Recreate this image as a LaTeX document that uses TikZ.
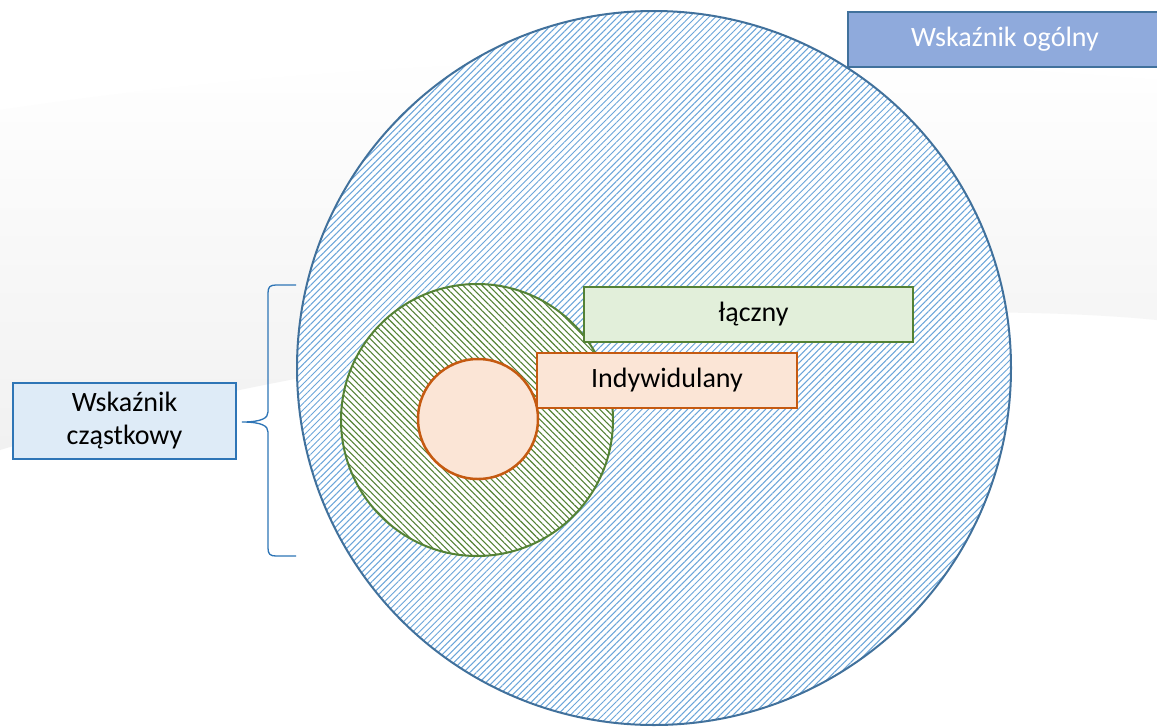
\documentclass[tikz,border=0pt]{standalone}
\usepackage{fontspec}
\setmainfont{Carlito}
\usetikzlibrary{patterns.meta}
\definecolor{bigline}{HTML}{41719C}
\definecolor{bighatch}{HTML}{5B9BD5}
\definecolor{grnline}{HTML}{548235}
\definecolor{grnhatch}{HTML}{548235}
\definecolor{grnfill}{HTML}{E2EFDA}
\definecolor{orgline}{HTML}{C55A11}
\definecolor{orgfill}{HTML}{FBE5D6}
\definecolor{topfill}{HTML}{8FAADC}
\definecolor{topline}{HTML}{41719C}
\definecolor{leftfill}{HTML}{DEEBF7}
\definecolor{leftline}{HTML}{2E75B6}
\definecolor{swoosh}{HTML}{F1F1F1}
\tikzset{
  labelbox/.style={draw, line width=2pt, inner sep=0pt, font=\fontsize{28}{33}\selectfont, align=center, text=black},
  ringshape/.style={circle, inner sep=0pt, preaction={fill=white}},
}
\begin{document}
\begin{tikzpicture}[x=1pt,y=-1pt]
\useasboundingbox (0,0) rectangle (1157,726);
\clip (0,0) rectangle (1157,726);
% background swoosh
\fill[white] (0,0) rectangle (1157,726);
\shade[top color=white, bottom color=swoosh, shading angle=0]
  (0,110) .. controls (400,50) and (800,50) .. (1157,80)
  -- (1157,320) .. controls (900,295) and (400,330) .. (0,450) -- cycle;
% circles
\node[ringshape, draw=bigline, line width=2pt, minimum size=714pt,
  pattern={Lines[angle=45,distance=4.6pt,line width=1pt]}, pattern color=bighatch!90!white] (big) at (654,368) {};
\node[ringshape, draw=grnline, line width=2pt, minimum size=272pt,
  pattern={Lines[angle=-45,distance=4.5pt,line width=1.1pt]}, pattern color=grnhatch] (part) at (477,420) {};
\node[circle, inner sep=0pt, draw=orgline, fill=orgfill, line width=2.5pt, minimum size=120pt] (ind) at (478,419) {};
% boxes
\node[labelbox, draw=grnline, fill=grnfill, minimum width=329pt, minimum height=55pt] (laczny) at (748.5,314.5) {\hspace*{10pt}łączny};
\node[labelbox, draw=orgline, fill=orgfill, minimum width=260pt, minimum height=55pt] (indyw) at (667,380.5) {Indywidulany};
\node[labelbox, draw=topline, fill=topfill, text=white, minimum width=320pt, minimum height=55pt, anchor=west] (ogolny) at (847,39.5) {\hspace*{-6pt}Wskaźnik ogólny};
\node[labelbox, draw=leftline, fill=leftfill, minimum width=223pt, minimum height=76pt] (czastk) at (124.5,421) {Wskaźnik\\cząstkowy};
% brace
\coordinate (btop) at (296,285);
\coordinate (bbot) at (296,556);
\coordinate (btip) at (242,422);
\draw[leftline, line width=1.3pt]
  (btop) -- (276,285) .. controls (270,285) and (268,287) .. (268,293)
  -- (268,412) .. controls (268,418) and (262,422) .. (btip)
  .. controls (262,422) and (268,426) .. (268,432)
  -- (268,548) .. controls (268,554) and (270,556) .. (276,556) -- (bbot);
\end{tikzpicture}
\end{document}
